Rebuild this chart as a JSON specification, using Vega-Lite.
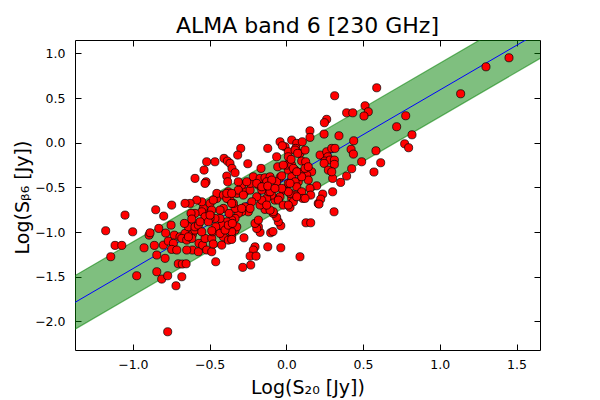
{
  "$schema": "https://vega.github.io/schema/vega-lite/v6.json",
  "width": 465,
  "height": 310,
  "autosize": {"type": "none"},
  "padding": {"left": 75, "top": 40, "right": 60, "bottom": 50},
  "background": "white",
  "title": {"text": "ALMA band 6 [230 GHz]", "fontSize": 22, "font": "DejaVu Sans", "fontWeight": "normal", "color": "black", "offset": 2},
  "config": {
    "view": {"stroke": "black", "strokeWidth": 1},
    "axis": {"domain": false, "grid": false, "tickColor": "black", "tickSize": -6, "tickWidth": 1, "labelFont": "DejaVu Sans", "labelFontSize": 12.5, "labelColor": "black", "titleFont": "DejaVu Sans", "titleFontSize": 19, "titleFontWeight": "normal", "titleColor": "black"}
  },
  "datasets": {
    "fit": [
      {"x": -1.6, "fit": -2.01, "lo": -2.31, "hi": -1.71},
      {"x": 1.9, "fit": 1.49, "lo": 1.19, "hi": 1.79}
    ],
    "pts": [
      {"x":1.451,"y":0.951},{"x":1.301,"y":0.850},{"x":1.136,"y":0.548},{"x":0.589,"y":0.615},{"x":0.315,"y":0.526},
      {"x":0.513,"y":0.414},{"x":0.534,"y":0.347},{"x":0.506,"y":0.299},{"x":0.393,"y":0.335},{"x":0.433,"y":0.335},
      {"x":0.778,"y":0.302},{"x":0.719,"y":0.179},{"x":0.819,"y":0.089},{"x":0.771,"y":-0.012},{"x":0.797,"y":-0.056},
      {"x":0.263,"y":0.262},{"x":0.248,"y":0.224},{"x":0.154,"y":0.134},{"x":0.154,"y":0.060},{"x":0.246,"y":0.097},
      {"x":0.343,"y":0.078},{"x":0.439,"y":0.022},{"x":0.584,"y":-0.090},{"x":0.615,"y":-0.224},{"x":0.571,"y":-0.328},
      {"x":0.491,"y":-0.213},{"x":0.422,"y":-0.074},{"x":0.437,"y":-0.127},{"x":0.426,"y":-0.291},{"x":0.393,"y":-0.373},
      {"x":0.354,"y":-0.444},{"x":0.302,"y":-0.399},{"x":0.302,"y":-0.549},{"x":0.237,"y":-0.575},{"x":0.198,"y":-0.482},
      {"x":0.154,"y":-0.511},{"x":0.220,"y":-0.138},{"x":0.263,"y":-0.101},{"x":0.270,"y":-0.157},{"x":0.296,"y":-0.063},
      {"x":0.317,"y":-0.063},{"x":0.252,"y":-0.205},{"x":0.285,"y":-0.194},{"x":0.313,"y":-0.194},{"x":0.313,"y":-0.242},
      {"x":0.246,"y":-0.231},{"x":0.274,"y":-0.306},{"x":0.296,"y":-0.325},{"x":0.165,"y":-0.325},{"x":0.133,"y":-0.362},
      {"x":0.089,"y":-0.332},{"x":0.078,"y":-0.437},{"x":0.143,"y":-0.418},{"x":0.057,"y":-0.306},{"x":0.013,"y":-0.306},
      {"x":0.035,"y":-0.381},{"x":0.035,"y":0.030},{"x":0.068,"y":-0.007},{"x":0.061,"y":-0.063},{"x":0.104,"y":0.011},
      {"x":0.089,"y":-0.119},{"x":-0.008,"y":-0.045},{"x":0.013,"y":-0.101},{"x":0.024,"y":-0.194},{"x":0.003,"y":-0.250},
      {"x":0.035,"y":-0.250},{"x":0.100,"y":-0.205},{"x":0.122,"y":-0.082},{"x":0.126,"y":-0.213},{"x":0.046,"y":-0.287},
      {"x":0.122,"y":-0.287},{"x":0.143,"y":-0.269},{"x":0.100,"y":-0.381},{"x":0.057,"y":-0.437},{"x":0.068,"y":-0.493},
      {"x":0.013,"y":-0.455},{"x":-0.041,"y":-0.388},{"x":0.311,"y":-0.773},{"x":0.128,"y":-0.896},{"x":0.159,"y":-0.896},
      {"x":0.089,"y":-1.276},{"x":-0.036,"y":-1.176},{"x":-0.121,"y":-1.165},{"x":-0.204,"y":-1.165},{"x":-0.215,"y":-1.201},
      {"x":-0.236,"y":-1.269},{"x":-0.197,"y":-1.269},{"x":-0.232,"y":-1.369},{"x":-0.284,"y":-1.395},{"x":-0.276,"y":-1.064},
      {"x":-0.102,"y":-1.008},{"x":-0.087,"y":-0.994},{"x":-0.171,"y":-1.003},{"x":-0.182,"y":-0.941},{"x":-0.036,"y":-0.929},
      {"x":-0.052,"y":-0.885},{"x":-0.063,"y":-0.835},{"x":-0.085,"y":-0.791},{"x":-0.334,"y":-0.978},{"x":-0.323,"y":-0.941},
      {"x":-0.356,"y":-1.053},{"x":0.024,"y":-0.723},{"x":0.208,"y":-0.679},{"x":0.224,"y":-0.631},{"x":0.159,"y":-0.586},
      {"x":0.100,"y":-0.549},{"x":0.107,"y":-0.623},{"x":0.057,"y":-0.586},{"x":0.035,"y":-0.623},{"x":0.024,"y":-0.567},
      {"x":0.046,"y":-0.661},{"x":0.024,"y":-0.455},{"x":-0.020,"y":-0.530},{"x":-0.041,"y":-0.605},{"x":-0.074,"y":-0.642},
      {"x":-0.095,"y":-0.586},{"x":-0.128,"y":-0.623},{"x":-0.085,"y":-0.773},{"x":-0.139,"y":-0.746},{"x":-0.171,"y":-0.698},
      {"x":-0.160,"y":-0.642},{"x":-0.193,"y":-0.605},{"x":-0.225,"y":-0.661},{"x":-0.248,"y":-0.773},{"x":-0.269,"y":-0.717},
      {"x":-0.291,"y":-0.773},{"x":-0.313,"y":-0.791},{"x":-0.334,"y":-0.735},{"x":-0.345,"y":-0.679},{"x":-0.367,"y":-0.642},
      {"x":-0.323,"y":-0.567},{"x":-0.269,"y":-0.549},{"x":-0.236,"y":-0.530},{"x":-0.291,"y":-0.474},{"x":-0.236,"y":-0.455},
      {"x":-0.182,"y":-0.474},{"x":-0.128,"y":-0.474},{"x":-0.063,"y":-0.437},{"x":-0.117,"y":-0.549},{"x":-0.160,"y":-0.530},
      {"x":-0.773,"y":-2.116},{"x":-1.177,"y":-0.985},{"x":-1.144,"y":-1.276},{"x":-1.116,"y":-1.149},{"x":-1.072,"y":-1.149},
      {"x":-1.051,"y":-0.810},{"x":-1.001,"y":-0.997},{"x":-0.975,"y":-1.489},{"x":-0.927,"y":-1.176},{"x":-0.894,"y":-1.034},
      {"x":-0.888,"y":-1.008},{"x":-0.851,"y":-0.750},{"x":-0.799,"y":-0.821},{"x":-0.747,"y":-0.698},{"x":-0.860,"y":-1.149},
      {"x":-0.844,"y":-1.257},{"x":-0.844,"y":-1.444},{"x":-0.812,"y":-1.526},{"x":-0.773,"y":-1.489},{"x":-0.719,"y":-1.601},
      {"x":-0.681,"y":-1.500},{"x":-0.704,"y":-1.355},{"x":-0.678,"y":-1.358},{"x":-0.653,"y":-1.355},{"x":-0.790,"y":-1.294},
      {"x":-0.831,"y":-0.959},{"x":-0.786,"y":-1.011},{"x":-0.751,"y":-0.922},{"x":-0.730,"y":-1.034},{"x":-0.693,"y":-1.053},
      {"x":-0.660,"y":-1.015},{"x":-0.638,"y":-0.941},{"x":-0.612,"y":-1.026},{"x":-0.595,"y":-0.978},{"x":-0.801,"y":-1.146},
      {"x":-0.769,"y":-1.101},{"x":-0.736,"y":-1.126},{"x":-0.747,"y":-1.194},{"x":-0.714,"y":-1.201},{"x":-0.681,"y":-1.071},
      {"x":-0.649,"y":-1.090},{"x":-0.616,"y":-1.071},{"x":-0.612,"y":-1.201},{"x":-0.573,"y":-1.220},{"x":-0.569,"y":-1.126},
      {"x":-0.545,"y":-1.146},{"x":-0.530,"y":-1.071},{"x":-0.486,"y":-1.071},{"x":-0.479,"y":-0.997},{"x":-0.460,"y":-1.332},
      {"x":-0.421,"y":-1.146},{"x":-0.410,"y":-1.053},{"x":-0.378,"y":-1.090},{"x":-0.356,"y":-0.997},{"x":-0.193,"y":-0.959},
      {"x":-0.204,"y":-0.903},{"x":-0.182,"y":-0.866},{"x":-0.106,"y":-0.754},{"x":-0.128,"y":-0.698},{"x":-0.236,"y":-0.735},
      {"x":-0.291,"y":-0.735},{"x":-0.334,"y":-0.847},{"x":-0.356,"y":-0.866},{"x":-0.388,"y":-0.885},{"x":-0.421,"y":-0.922},
      {"x":-0.432,"y":-0.847},{"x":-0.465,"y":-0.847},{"x":-0.497,"y":-0.847},{"x":-0.519,"y":-0.791},{"x":-0.541,"y":-0.735},
      {"x":-0.551,"y":-0.661},{"x":-0.584,"y":-0.642},{"x":-0.627,"y":-0.679},{"x":-0.660,"y":-0.679},{"x":-0.497,"y":-0.679},
      {"x":-0.453,"y":-0.623},{"x":-0.453,"y":-0.567},{"x":-0.410,"y":-0.586},{"x":-0.388,"y":-0.623},{"x":-0.356,"y":-0.679},
      {"x":-0.378,"y":-0.549},{"x":-0.313,"y":-0.530},{"x":-0.280,"y":-0.586},{"x":-0.106,"y":-0.549},{"x":-0.052,"y":-0.642},
      {"x":-0.020,"y":-0.698},{"x":0.013,"y":-0.698},{"x":0.068,"y":-0.605},{"x":0.122,"y":-0.623},{"x":0.013,"y":-0.549},
      {"x":-0.030,"y":-0.511},{"x":-0.297,"y":-0.063},{"x":-0.317,"y":-0.138},{"x":-0.121,"y":-0.063},{"x":-0.251,"y":-0.235},
      {"x":-0.406,"y":-0.175},{"x":-0.384,"y":-0.205},{"x":-0.367,"y":-0.231},{"x":-0.354,"y":-0.287},{"x":-0.334,"y":-0.336},
      {"x":-0.519,"y":-0.213},{"x":-0.465,"y":-0.213},{"x":-0.536,"y":-0.306},{"x":-0.595,"y":-0.399},{"x":-0.523,"y":-0.437},
      {"x":-0.388,"y":-0.373},{"x":-0.382,"y":-0.437},{"x":-0.313,"y":-0.437},{"x":-0.165,"y":-0.287},{"x":-0.041,"y":0.011},
      {"x":-0.026,"y":-0.034},{"x":-0.063,"y":-0.157},{"x":-0.056,"y":-0.269},{"x":-0.020,"y":-0.250},{"x":0.013,"y":-0.157},
      {"x":-0.215,"y":-0.381},{"x":-0.171,"y":-0.399},{"x":-0.139,"y":-0.392},{"x":-0.106,"y":-0.381},{"x":-0.128,"y":-0.437},
      {"x":-0.095,"y":-0.418},{"x":-0.030,"y":-0.370},{"x":-0.258,"y":-0.437},{"x":-0.193,"y":-0.455},{"x":0.031,"y":-0.186},
      {"x":0.057,"y":-0.082},{"x":0.074,"y":-0.119},{"x":0.068,"y":-0.325},{"x":-0.160,"y":-0.493},{"x":-0.121,"y":-0.485},
      {"x":-0.074,"y":-0.511},{"x":-0.530,"y":-0.455},{"x":-0.476,"y":-0.642},{"x":-0.388,"y":-0.567},{"x":-0.356,"y":-0.567},
      {"x":-0.410,"y":-0.735},{"x":-0.432,"y":-0.754},{"x":-0.486,"y":-0.754},{"x":-0.551,"y":-0.773},{"x":-0.530,"y":-0.829},
      {"x":-0.595,"y":-0.791},{"x":-0.621,"y":-0.791},{"x":-0.616,"y":-0.854},{"x":-0.664,"y":-0.903},{"x":-0.638,"y":-1.053},
      {"x":-0.595,"y":-0.941},{"x":-0.573,"y":-0.922},{"x":-0.562,"y":-0.885},{"x":-0.508,"y":-0.885},{"x":-0.497,"y":-0.810},
      {"x":-0.460,"y":-0.941},{"x":-0.551,"y":-0.997},{"x":-0.486,"y":-0.985},{"x":-0.649,"y":-1.201},{"x":-0.519,"y":-1.201},
      {"x":-0.486,"y":-1.220},{"x":-0.476,"y":-1.134},{"x":-0.356,"y":-1.082},{"x":-0.432,"y":-1.015},{"x":-0.399,"y":-0.978},
      {"x":-0.378,"y":-0.922},{"x":-0.352,"y":-0.903},{"x":-0.373,"y":-0.791},{"x":0.213,"y":-0.687}
    ]
  },
  "layer": [
    {
      "data": {"name": "fit"},
      "mark": {"type": "area", "clip": true, "fill": "#008000", "fillOpacity": 0.5, "stroke": "#008000", "strokeOpacity": 0.55, "strokeWidth": 1.2},
      "encoding": {
        "x": {"field": "x", "type": "quantitative", "scale": {"domain": [-1.377, 1.653], "nice": false, "zero": false},
              "axis": {"orient": "bottom", "values": [-1, -0.5, 0, 0.5, 1, 1.5], "format": ".1f", "labelPadding": 14, "title": "Log(S₂₀ [Jy])", "titleY": 43, "titleBaseline": "alphabetic"}},
        "y": {"field": "lo", "type": "quantitative", "scale": {"domain": [-2.32, 1.15], "nice": false, "zero": false},
              "axis": {"orient": "left", "values": [-2, -1.5, -1, -0.5, 0, 0.5, 1], "format": ".1f", "labelPadding": 16, "title": "Log(Sᵦ₆ [Jy])", "titleX": -53, "titleY": 157, "titleAngle": -90, "titleAlign": "center", "titleBaseline": "middle"}},
        "y2": {"field": "hi"}
      }
    },
    {
      "data": {"name": "fit"},
      "mark": {"type": "line", "clip": true, "color": "#0000ff", "strokeWidth": 1},
      "encoding": {
        "x": {"field": "x", "type": "quantitative", "axis": {"orient": "top", "values": [-1, -0.5, 0, 0.5, 1, 1.5], "labels": false, "title": null}},
        "y": {"field": "fit", "type": "quantitative", "axis": {"orient": "right", "values": [-2, -1.5, -1, -0.5, 0, 0.5, 1], "labels": false, "title": null}}
      }
    },
    {
      "data": {"name": "pts"},
      "mark": {"type": "circle", "clip": true, "color": "#ff0000", "stroke": "#000000", "strokeWidth": 0.7, "size": 66, "opacity": 1},
      "encoding": {
        "x": {"field": "x", "type": "quantitative", "axis": null},
        "y": {"field": "y", "type": "quantitative", "axis": null}
      }
    }
  ],
  "resolve": {"axis": {"x": "independent", "y": "independent"}}
}
